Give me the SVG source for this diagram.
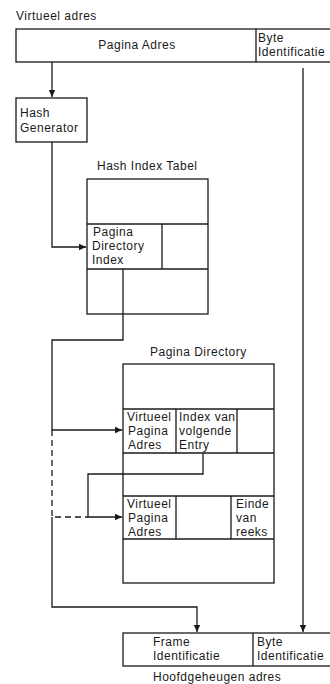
<svg xmlns="http://www.w3.org/2000/svg" width="330" height="684" viewBox="0 0 330 684">
<defs>
<style>
text{font-family:"Liberation Sans",Arial,sans-serif;font-size:12px;letter-spacing:0.5px;fill:#1a1a1a}
.b{fill:#fff;stroke:#1a1a1a;stroke-width:1.3}
.l{fill:none;stroke:#1a1a1a;stroke-width:1.3}
.d{fill:none;stroke:#1a1a1a;stroke-width:1.3;stroke-dasharray:6,4}
</style>
<marker id="ah" markerWidth="8" markerHeight="8" refX="7" refY="4" orient="auto" markerUnits="userSpaceOnUse">
<path d="M0,0.8 L7,4 L0,7.2 Z" fill="#1a1a1a"/>
</marker>
</defs>
<rect width="330" height="684" fill="#fff"/>

<g id="virtueel-adres">
<text x="16" y="20">Virtueel adres</text>
<rect class="b" x="16" y="29" width="316" height="33"/>
<line class="l" x1="256" y1="29" x2="256" y2="62"/>
<text x="137" y="49" text-anchor="middle">Pagina Adres</text>
<text x="258" y="42">Byte</text>
<text x="258" y="56">Identificatie</text>
</g>

<g id="hash-generator">
<rect class="b" x="16" y="98" width="71" height="44"/>
<text x="20" y="117">Hash</text>
<text x="20" y="132">Generator</text>
</g>

<g id="hash-index-tabel">
<text x="97" y="170">Hash Index Tabel</text>
<rect class="b" x="87" y="179" width="121" height="135"/>
<line class="l" x1="87" y1="224" x2="208" y2="224"/>
<line class="l" x1="87" y1="269" x2="208" y2="269"/>
<line class="l" x1="162" y1="224" x2="162" y2="269"/>
<text x="93" y="236">Pagina</text>
<text x="92" y="250">Directory</text>
<text x="92" y="264">Index</text>
</g>

<g id="pagina-directory">
<text x="150" y="356">Pagina Directory</text>
<rect class="b" x="123" y="364" width="151" height="219"/>
<line class="l" x1="123" y1="409" x2="274" y2="409"/>
<line class="l" x1="123" y1="453" x2="274" y2="453"/>
<line class="l" x1="123" y1="496" x2="274" y2="496"/>
<line class="l" x1="123" y1="539" x2="274" y2="539"/>
<line class="l" x1="176" y1="409" x2="176" y2="453"/>
<line class="l" x1="237" y1="409" x2="237" y2="453"/>
<line class="l" x1="176" y1="496" x2="176" y2="539"/>
<line class="l" x1="231" y1="496" x2="231" y2="539"/>
<text x="127" y="421">Virtueel</text>
<text x="128" y="435">Pagina</text>
<text x="128" y="449">Adres</text>
<text x="179" y="421">Index van</text>
<text x="179" y="435">volgende</text>
<text x="179" y="449">Entry</text>
<text x="127" y="508">Virtueel</text>
<text x="128" y="522">Pagina</text>
<text x="128" y="536">Adres</text>
<text x="236" y="508">Einde</text>
<text x="236" y="522">van</text>
<text x="236" y="536">reeks</text>
</g>

<g id="hoofdgeheugen-adres">
<rect class="b" x="123" y="633" width="209" height="33"/>
<line class="l" x1="253" y1="633" x2="253" y2="666"/>
<text x="153" y="646">Frame</text>
<text x="153" y="660">Identificatie</text>
<text x="257" y="646">Byte</text>
<text x="257" y="660">Identificatie</text>
<text x="153" y="681">Hoofdgeheugen adres</text>
</g>

<g id="connectors">
<path class="l" d="M52,62 V97" marker-end="url(#ah)"/>
<path class="l" d="M52,142 V247 H86" marker-end="url(#ah)"/>
<path class="l" d="M123,269 V340 H52 V430 H122" marker-end="url(#ah)"/>
<path class="l" d="M203,453 V474 H88 V517 H122" marker-end="url(#ah)"/>
<path class="d" d="M52,430 V517 H88"/>
<path class="l" d="M52,517 V607 H197 V632" marker-end="url(#ah)"/>
<path class="l" d="M303,68 V632" marker-end="url(#ah)"/>
</g>
</svg>
